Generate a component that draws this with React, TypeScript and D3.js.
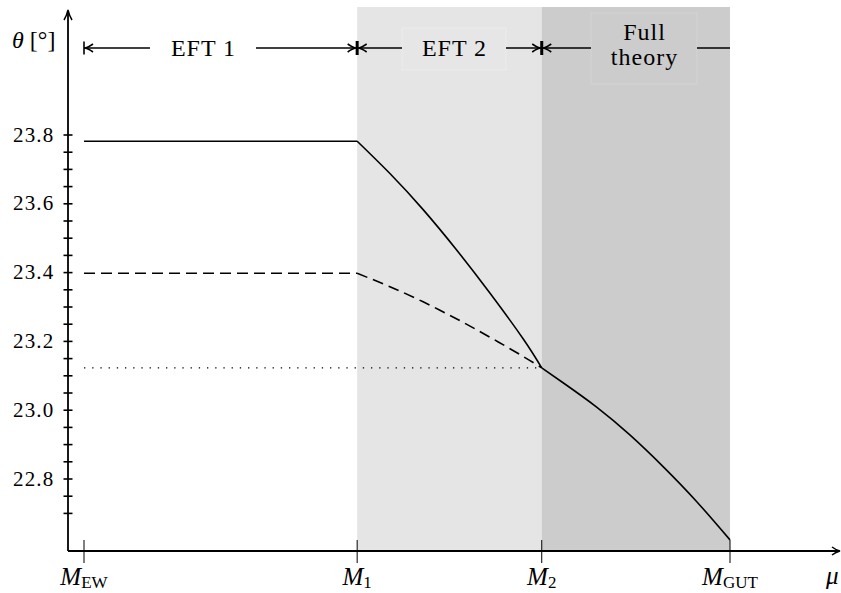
import React from 'react';
import * as d3 from 'd3';

const scaleNames = ['EW', '1', '2', 'GUT'];
const scaleMu = [2, 7.92, 11.92, 16];

const yMajorTicks = [22.8, 23.0, 23.2, 23.4, 23.6, 23.8];
const yMinorTicks = [22.7, 22.75, 22.85, 22.9, 22.95, 23.05, 23.1, 23.15, 23.25, 23.3, 23.35, 23.45, 23.5, 23.55, 23.65, 23.7, 23.75];

const thetaSolidEft1 = 23.782;
const thetaDashedEft1 = 23.398;
const thetaDotted = 23.123;

const muEft2 = [7.92, 8.63, 9.35, 10.08, 10.8, 11.52, 11.92];
const thetaSolidEft2 = [23.782, 23.688, 23.583, 23.465, 23.34, 23.207, 23.123];
const thetaDashedEft2 = [23.398, 23.359, 23.315, 23.265, 23.212, 23.156, 23.123];

const muFull = [11.92, 12.39, 13.11, 13.83, 14.55, 15.28, 16];
const thetaFull = [23.123, 23.079, 23.009, 22.928, 22.836, 22.734, 22.623];

const W = 841;
const H = 593;
const FONT = 'Liberation Serif';

export default function App() {
  const x = d3.scaleLinear().domain([2, 16]).range([84, 730]);
  const y = d3.scaleLinear().domain([22.8, 23.8]).range([479, 135]);
  const axisX = 68;
  const axisY = 551;
  const topY = 7;

  const line = d3
    .line<[number, number]>()
    .x((d) => x(d[0]))
    .y((d) => y(d[1]))
    .curve(d3.curveNatural);
  const zip = (a: number[], b: number[]) => a.map((v, i) => [v, b[i]] as [number, number]);

  const [mEW, m1, m2, mGUT] = scaleMu;
  const arrowY = 48;

  const headLeft = (px: number) => `M${px + 8},${arrowY - 4} Q${px + 3},${arrowY - 0.5} ${px},${arrowY} Q${px + 3},${arrowY + 0.5} ${px + 8},${arrowY + 4}`;
  const headRight = (px: number) => `M${px - 8},${arrowY - 4} Q${px - 3},${arrowY - 0.5} ${px},${arrowY} Q${px - 3},${arrowY + 0.5} ${px - 8},${arrowY + 4}`;
  const ts = { fontFamily: FONT };
  const hs = { fontFamily: FONT, letterSpacing: '1px' };

  return (
    <svg width={W} height={H} style={{ position: 'absolute', left: 0, top: 0, background: '#fff' }}>
      <rect x={x(m1)} y={topY} width={x(m2) - x(m1)} height={axisY - topY} fill="#e5e5e5" />
      <rect x={x(m2)} y={topY} width={x(mGUT) - x(m2)} height={axisY - topY} fill="#cccccc" />

      <rect x={402} y={28} width={104} height={42} fill="#e6e6e6" stroke="#ececec" strokeWidth={1} />
      <rect x={591} y={13} width={106} height={71} fill="#cccccc" stroke="#d4d4d4" strokeWidth={1} />

      <g stroke="#000" strokeWidth={1.6} fill="none">
        <line x1={x(mEW)} y1={arrowY - 6.5} x2={x(mEW)} y2={arrowY + 6.5} />
        <line x1={x(mEW)} y1={arrowY} x2={150} y2={arrowY} />
        <path d={headLeft(x(mEW) + 1)} />
        <line x1={256} y1={arrowY} x2={x(m1)} y2={arrowY} />
        <path d={headRight(x(m1) - 1.5)} />
        <line x1={x(m1)} y1={arrowY} x2={402} y2={arrowY} />
        <path d={headLeft(x(m1) + 1.5)} />
        <line x1={506} y1={arrowY} x2={x(m2)} y2={arrowY} />
        <path d={headRight(x(m2) - 1.5)} />
        <line x1={x(m2)} y1={arrowY} x2={591} y2={arrowY} />
        <path d={headLeft(x(m2) + 1.5)} />
        <line x1={697} y1={arrowY} x2={x(mGUT)} y2={arrowY} />
      </g>
      <rect x={x(m1) - 1.5} y={arrowY - 7} width={3} height={14} fill="#000" />
      <rect x={x(m2) - 1.5} y={arrowY - 7} width={3} height={14} fill="#000" />
      <g fontSize={24} textAnchor="middle" fill="#000">
        <text x={203.5} y={56} style={hs}>EFT 1</text>
        <text x={454.5} y={56} style={hs}>EFT 2</text>
        <text x={644.5} y={40} style={hs}>Full</text>
        <text x={644.5} y={65} style={hs}>theory</text>
      </g>

      <g fill="none" stroke="#000" strokeWidth={1.6}>
        <line x1={x(mEW)} y1={y(thetaSolidEft1)} x2={x(m1)} y2={y(thetaSolidEft1)} />
        <path d={line(zip(muEft2, thetaSolidEft2)) || ''} />
        <path d={line(zip(muFull, thetaFull)) || ''} />
        <line x1={x(mEW)} y1={y(thetaDashedEft1)} x2={x(m1)} y2={y(thetaDashedEft1)} strokeDasharray="11,6" />
        <path d={line(zip(muEft2, thetaDashedEft2)) || ''} strokeDasharray="11,6" />
        <line x1={x(mEW)} y1={y(thetaDotted)} x2={x(m2)} y2={y(thetaDotted)} strokeDasharray="1.3,6.9" strokeWidth={1.3} />
      </g>

      <g stroke="#000" fill="none">
        <line x1={axisX} y1={axisY} x2={838} y2={axisY} strokeWidth={1.8} />
        <line x1={axisX} y1={axisY} x2={axisX} y2={12} strokeWidth={1.8} />
        <path d={`M${axisX - 4},${20} Q${axisX - 1},${15} ${axisX},${10} Q${axisX + 1},${15} ${axisX + 4},${20}`} strokeWidth={1.5} />
        <path d={`M${832},${axisY - 4} Q${836},${axisY - 1} ${840},${axisY} Q${836},${axisY + 1} ${832},${axisY + 4}`} strokeWidth={1.5} />
        {yMajorTicks.concat(yMinorTicks).map((t) => (
          <line key={t} x1={axisX - 4.5} x2={axisX + 4.5} y1={y(t)} y2={y(t)} strokeWidth={1.6} />
        ))}
        {scaleMu.map((m) => (
          <line key={m} x1={x(m)} x2={x(m)} y1={540} y2={563} strokeWidth={1} />
        ))}
      </g>
      <g fontSize={21} textAnchor="end" fill="#000">
        {yMajorTicks.map((t) => (
          <text key={t} x={54.5} y={y(t) + 6.5} style={{ fontFamily: FONT, letterSpacing: '1.2px' }}>{t.toFixed(1)}</text>
        ))}
      </g>
      <g fontSize={25} fill="#000" textAnchor="middle">
        {scaleMu.map((m, i) => (
          <text key={m} x={x(m)} y={585} style={ts}>
            <tspan fontStyle="italic">M</tspan>
            <tspan fontSize={17} dy={3}>{scaleNames[i]}</tspan>
          </text>
        ))}
      </g>
      <text x={826} y={584} fontSize={25} fontStyle="italic" fill="#000" style={ts}>μ</text>
      <text x={12} y={48} fontSize={24} fill="#000" style={ts}>
        <tspan fontStyle="italic">θ</tspan>
        <tspan> [°]</tspan>
      </text>
    </svg>
  );
}
